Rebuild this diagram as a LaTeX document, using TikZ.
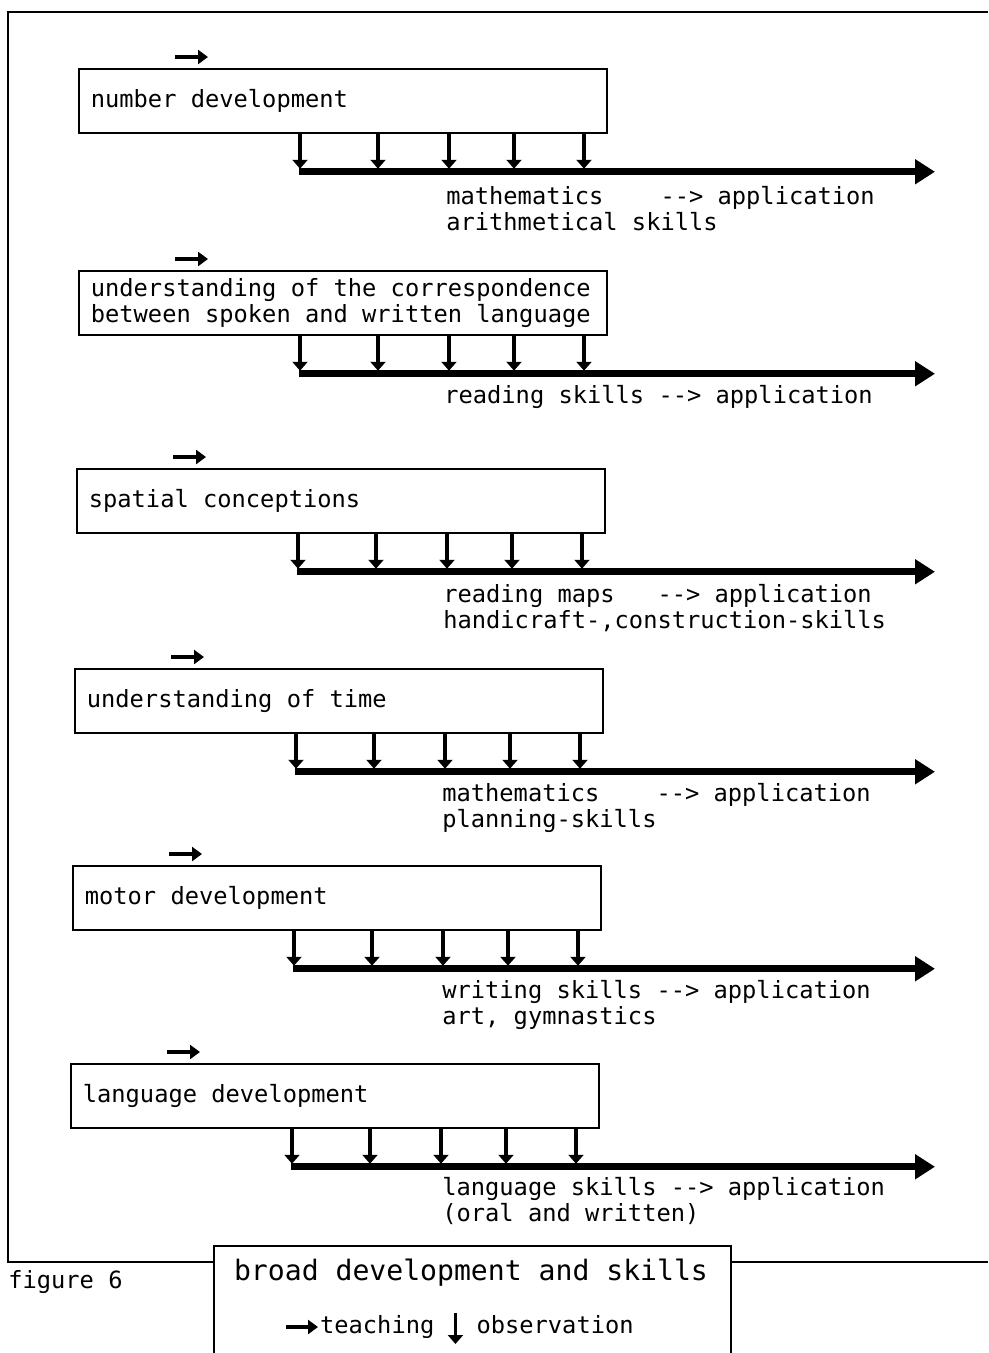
\documentclass[tikz,border=0pt]{standalone}
\usepackage{fontspec}
\setmonofont{DejaVu Sans Mono}
\usetikzlibrary{arrows.meta,positioning}

\begin{document}
\begin{tikzpicture}[
  x=0.02cm, y=-0.02cm,
  font=\ttfamily\fontsize{13.5}{14.6}\selectfont,
  box/.style={draw, line width=1pt, anchor=north west, minimum width=10.56cm, minimum height=1.28cm, text width=10.08cm, inner xsep=0.24cm, align=flush left},
  outlbl/.style={anchor=north west, inner sep=0pt, align=left},
  teach/.style={-{Triangle[length=2mm,width=2.8mm]}, line width=2.8pt},
  obs/.style={-{Triangle[length=1.8mm,width=3mm]}, line width=2.2pt},
  axis/.style={-{Triangle[length=4mm,width=4.8mm]}, line width=4pt},
  frame/.style={line width=1pt}
]
\useasboundingbox (0,0) rectangle (988,1353);

% outer frame
\draw[frame] (988,12) -- (8,12) -- (8,1262) -- (213,1262);
\draw[frame] (730,1262) -- (988,1262);

\node[box] (num)   at (78,68)   {number development};
\node[box] (corr)  at (78,270)  {understanding of the correspondence\\between spoken and written language};
\node[box] (spat)  at (76,468)  {spatial conceptions};
\node[box] (time)  at (74,668)  {understanding of time};
\node[box] (motor) at (72,865)  {motor development};
\node[box] (lang)  at (70,1063) {language development};

% teaching arrow, observation arrows, outcome line
\foreach \b in {num,corr,spat,time,motor,lang}{
  \draw[teach] (\b.north west) ++(97,-11) coordinate (\b-t) -- ++(33,0);
  \foreach \dx in {222,300,371,436,506}
    \draw[obs] (\b.south west) ++(\dx,0) -- ++(0,35);
  \path (\b.south west) ++(221,38) coordinate (\b-s);
  \draw[axis] (\b-s) -- (\b-s -| 935,0);
}

\node[outlbl] (num-out)   at (446,186)  {mathematics\ \ \ \ -{}-> application\\arithmetical skills};
\node[outlbl] (corr-out)  at (444,385)  {reading skills -{}-> application};
\node[outlbl] (spat-out)  at (443,584)  {reading maps\ \ \ -{}-> application\\handicraft-,construction-skills};
\node[outlbl] (time-out)  at (442,783)  {mathematics\ \ \ \ -{}-> application\\planning-skills};
\node[outlbl] (motor-out) at (442,980)  {writing skills -{}-> application\\art, gymnastics};
\node[outlbl] (lang-out)  at (442,1177) {language skills -{}-> application\\(oral and written)};

% legend
\node[anchor=west, inner sep=0pt] (fig) at (8,1282) {figure 6};
\node[draw, frame, anchor=north west, minimum width=10.34cm, minimum height=2.6cm] (legend) at (213,1245) {};
\node[font=\ttfamily\fontsize{16}{18}\selectfont] (title) at (471,1273) {broad development and skills};
\node[anchor=west, inner sep=1pt] (teachkey) at (318,1327) {teaching};
\node[base right=0.76cm of teachkey, inner sep=1pt] (obskey) {observation};
\draw[teach] (teachkey.west) ++(-32,0) -- (teachkey.west);
\draw[obs] (teachkey.east) ++(19,-14) -- ++(0,31);
\end{tikzpicture}
\end{document}
